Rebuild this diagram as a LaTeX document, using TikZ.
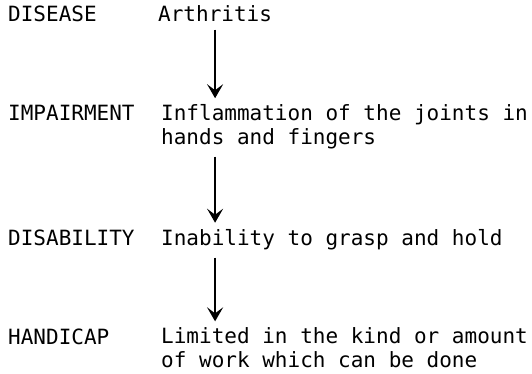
\documentclass[tikz,border=0pt]{standalone}
\usepackage{fontspec}
\setmonofont{DejaVu Sans Mono}
\usepackage{tikz}
\usetikzlibrary{positioning}
\usetikzlibrary{arrows.meta}

\begin{document}
\begin{tikzpicture}[x=1pt,y=-1pt,
    term/.style={inner sep=0pt,anchor=base west,align=left,
        font=\ttfamily\fontsize{21}{23.5}\selectfont},
    down/.style={line width=2.8pt,shorten <=8pt,shorten >=6pt,
        -{Stealth[length=14pt,width=16pt,inset=6pt]}}]
    \useasboundingbox (0,0) rectangle (532,373);

    %draw left column
    \node[term] (disease) at (8,21) {DISEASE};
    \node[term] (impair) at (8,120) {IMPAIRMENT};
    \node[term] (disab) at (8,245) {DISABILITY};
    \node[term] (handi) at (8,344) {HANDICAP};

    %draw right column (two-line nodes sit on their last line)
    \node[term] (arth) at (158,21) {Arthritis};
    \node[term] (infl) at (161,144) {Inflammation of the joints in\\hands and fingers};
    \node[term] (inab) at (161,245) {Inability to grasp and hold};
    \node[term] (limit) at (161,367) {Limited in the kind or amount\\of work which can be done};

    %draw arrows
    \draw[down] (arth.south) -- (arth.south |- infl.north);
    \draw[down] (arth.south |- infl.south) -- (arth.south |- inab.north);
    \draw[down] (arth.south |- inab.south) -- (arth.south |- limit.north);

\end{tikzpicture}
\end{document}
